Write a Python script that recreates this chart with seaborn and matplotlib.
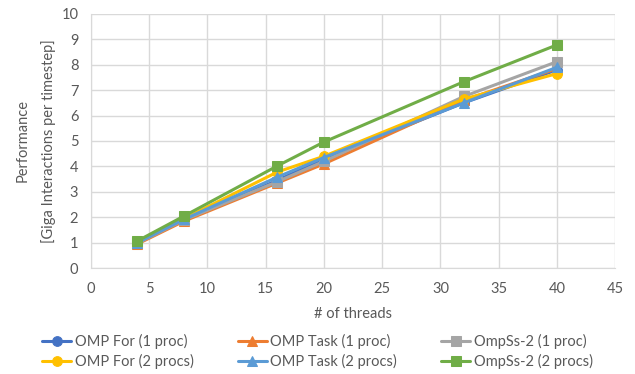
import matplotlib
matplotlib.use("Agg")
import matplotlib.pyplot as plt
import seaborn as sns
import pandas as pd

threads = [4, 8, 16, 20, 32, 40]
omp_for_1 = [1.00, 1.90, 3.45, 4.30, 6.50, 7.80]
omp_task_1 = [0.95, 1.85, 3.35, 4.10, 6.60, 7.85]
ompss_1 = [0.98, 1.90, 3.40, 4.20, 6.75, 8.12]
omp_for_2 = [1.02, 1.95, 3.78, 4.40, 6.65, 7.65]
omp_task_2 = [1.00, 1.92, 3.58, 4.35, 6.50, 7.90]
ompss_2 = [1.07, 2.05, 4.02, 4.96, 7.33, 8.78]

series = [
    ("OMP For (1 proc)", omp_for_1, "#4472C4", "o"),
    ("OMP Task (1 proc)", omp_task_1, "#ED7D31", "^"),
    ("OmpSs-2 (1 proc)", ompss_1, "#A5A5A5", "s"),
    ("OMP For (2 procs)", omp_for_2, "#FFC000", "o"),
    ("OMP Task (2 procs)", omp_task_2, "#5B9BD5", "^"),
    ("OmpSs-2 (2 procs)", ompss_2, "#70AD47", "s"),
]

sns.set_style("white")
plt.rcParams["font.family"] = ["Lato", "DejaVu Sans"]
text_color = "#595959"

fig = plt.figure(figsize=(6.35, 3.74), dpi=100)
ax = fig.add_axes([0.143, 0.283, 0.826, 0.680])

handles = {}
for name, vals, color, marker in series:
    df = pd.DataFrame({"threads": threads, "perf": vals})
    sns.lineplot(data=df, x="threads", y="perf", ax=ax, color=color,
                 marker=marker, markersize=7, linewidth=2.2,
                 markeredgecolor=color, label=name, legend=False)
    handles[name] = ax.lines[-1]

ax.set_xlim(0, 45)
ax.set_ylim(0, 10)
ax.set_xticks(range(0, 46, 5))
ax.set_yticks(range(0, 11, 1))
ax.grid(True, color="#D9D9D9", linewidth=1)
ax.set_axisbelow(True)
for side in ["top", "right"]:
    ax.spines[side].set_visible(False)
for side in ["left", "bottom"]:
    ax.spines[side].set_color("#D9D9D9")
ax.tick_params(axis="x", colors=text_color, labelsize=10.5, length=0, pad=10)
ax.tick_params(axis="y", colors=text_color, labelsize=10.5, length=0, pad=9)
ax.set_xlabel("# of threads", color=text_color, fontsize=10.5, labelpad=8)
ax.set_ylabel("Performance\n[Giga Interactions per timestep]", color=text_color,
              fontsize=10.5, labelpad=4, linespacing=1.9)

order = ["OMP For (1 proc)", "OMP For (2 procs)", "OMP Task (1 proc)",
         "OMP Task (2 procs)", "OmpSs-2 (1 proc)", "OmpSs-2 (2 procs)"]
leg = fig.legend([handles[n] for n in order], order, ncol=3, loc="lower center",
                 bbox_to_anchor=(0.50, -0.022), frameon=False, fontsize=10.5,
                 handlelength=2.0, columnspacing=3.0, labelspacing=0.35,
                 handletextpad=0.25)
for t in leg.get_texts():
    t.set_color(text_color)

fig.savefig("out.png", dpi=100)
